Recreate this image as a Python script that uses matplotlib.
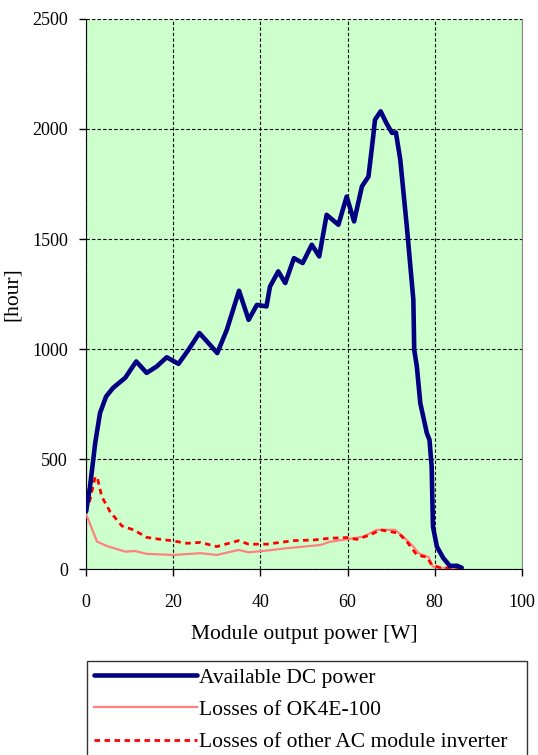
import matplotlib.pyplot as plt

plt.rcParams['font.family'] = ['Liberation Serif', 'DejaVu Serif']

# Available DC power
dc_x = [0, 0.9, 2.1, 3.2, 4.6, 6.2, 9.0, 11.5, 13.9, 16.2, 18.5, 21.2, 23.5, 26.0, 28.1,
        30.1, 32.3, 35.1, 37.3, 39.2, 41.4, 42.2, 44.1, 45.7, 47.7, 49.7, 51.8, 53.5, 55.2,
        57.9, 59.8, 61.5, 63.3, 64.8, 65.8, 66.3, 67.6, 68.9, 70.2, 71.1, 72.1, 73.6, 75.1,
        75.3, 75.9, 76.7, 78.2, 78.8, 79.3, 79.6, 80.5, 82.0, 83.5, 85.1, 86.2]
dc_y = [262, 375, 574, 710, 785, 824, 870, 944, 892, 921, 963, 933, 997, 1073, 1027,
        982, 1088, 1265, 1133, 1201, 1194, 1284, 1353, 1300, 1413, 1391, 1474, 1421, 1610,
        1565, 1693, 1580, 1739, 1784, 1951, 2042, 2080, 2027, 1982, 1984, 1860, 1557, 1224,
        997, 921, 754, 618, 588, 466, 194, 103, 50, 15, 16, 7]

# Losses of OK4E-100
ok_x = [0, 2.5, 4.7, 9.0, 11.2, 13.9, 20, 26.2, 30, 35, 37.3, 41.5, 45.7, 53.7, 56,
        59.8, 63.6, 66.7, 70.9, 72.8, 75.1, 76.3, 78.6, 79.6, 82, 86]
ok_y = [251, 126, 106, 80, 83, 70, 65, 73, 65, 88, 77, 85, 95, 110, 125,
        136, 148, 179, 179, 148, 103, 73, 55, 12, 5, 3]

# Losses of other AC module inverter
oth_x = [0, 0.9, 2.1, 2.6, 3.6, 5.5, 8.2, 10.9, 13.9, 17, 20, 23.1, 26.2, 30, 35, 37.3,
         41.5, 47.6, 52.2, 56, 59.8, 62.1, 65.2, 67.5, 69.8, 71.7, 73.6, 75.9, 78.2, 79.3,
         81.3, 85.8]
oth_y = [262, 315, 421, 414, 330, 262, 197, 179, 145, 136, 129, 118, 122, 103, 130, 114,
         114, 130, 133, 141, 144, 136, 156, 179, 171, 164, 126, 65, 55, 20, 7, 5]

fig = plt.figure(figsize=(5.38, 7.55), dpi=100)
ax = fig.add_axes([0.16, 0.246, 0.81, 0.729])
ax.set_facecolor('#CCFFCC')

l1, = ax.plot(dc_x, dc_y, color='#000080', lw=3.3, solid_capstyle='round',
              solid_joinstyle='round', zorder=4)
l2, = ax.plot(ok_x, ok_y, color='#FF8080', lw=1.6, zorder=3)
l3, = ax.plot(oth_x, oth_y, color='#FF0000', lw=2.0, dashes=(2, 1.6), zorder=3)

ax.set_xlim(0, 100)
ax.set_ylim(0, 2500)
ax.set_xticks(range(0, 101, 20))
ax.set_yticks(range(0, 2501, 500))
ax.grid(True, color='black', ls=(0, (3, 2)), lw=0.8)
ax.tick_params(labelsize=13, length=5, width=1, pad=8)
ax.tick_params(axis='x', pad=13)
ax.spines['top'].set_visible(False)
ax.spines['right'].set_color('#888888')

ax.set_xlabel('Module output power [W]', fontsize=15.5, labelpad=10)
ax.set_ylabel('[hour]', fontsize=15.5)
ax.yaxis.set_label_coords(-0.147, 0.5)

fig.legend([l1, l2, l3],
           ['Available DC power', 'Losses of OK4E-100', 'Losses of other AC module inverter'],
           loc='upper left', bbox_to_anchor=(0.162, 0.1245, 0.818, 0.0), mode='expand',
           fontsize=15.5, frameon=True, fancybox=False, edgecolor='black',
           handlelength=4.8, handletextpad=0.1, labelspacing=0.57, borderpad=0.3,
           borderaxespad=0)

fig.savefig('out.png', dpi=100)
